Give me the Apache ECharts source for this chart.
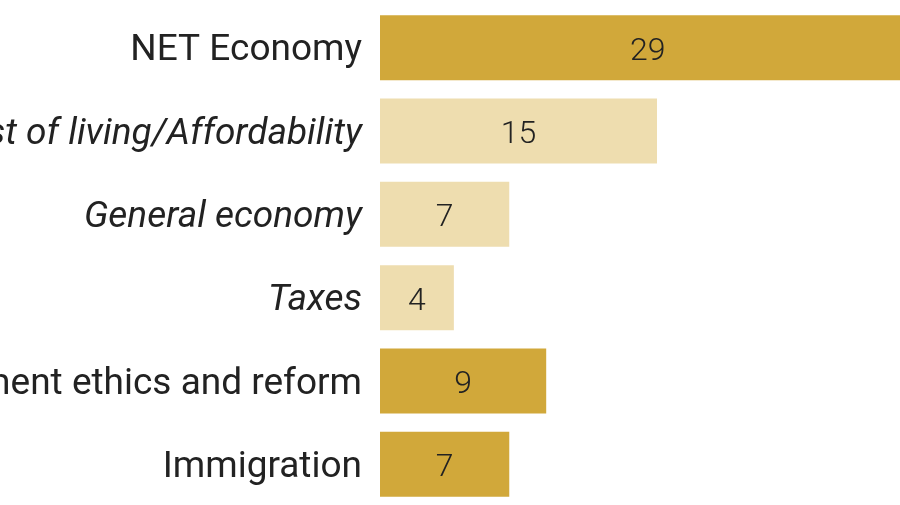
<!DOCTYPE html>
<html>
<head>
<meta charset="utf-8">
<script src="https://cdn.jsdelivr.net/npm/echarts@6/dist/echarts.min.js"></script>
<style>
  html, body { margin: 0; padding: 0; background: #fff; }
  #chart { width: 900px; height: 505px; }
</style>
</head>
<body>
<div id="chart"></div>
<script>
// categories, top to bottom
const categories = ['NET Economy', 'Cost of living/Affordability', 'General economy', 'Taxes', 'Government ethics and reform', 'Immigration'];
const values = [29, 15, 7, 4, 9, 7];
// sub-items of the economy net are drawn lighter and italic
const isSub = [false, true, true, true, false, false];

const darkGold = '#D1A83A';
const lightGold = '#EEDDAF';

const chart = echarts.init(document.getElementById('chart'));

chart.setOption({
  animation: false,
  grid: { left: 380, right: -34, top: 6, bottom: -1, containLabel: false, outerBoundsMode: 'none' },
  xAxis: {
    type: 'value',
    min: 0,
    max: 30,
    show: false
  },
  yAxis: {
    type: 'category',
    data: categories,
    inverse: true,
    axisLine: { show: false },
    axisTick: { show: false },
    axisLabel: {
      margin: 18,
      formatter: (v, i) => isSub[i] ? '{i|' + v + '}' : '{n|' + v + '}',
      rich: {
        n: { fontFamily: 'Roboto', fontSize: 37, color: '#222', padding: [7, 0, 0, 0] },
        i: { fontFamily: 'Roboto', fontSize: 37, fontStyle: 'italic', color: '#222', padding: [7, 0, 0, 0] }
      }
    }
  },
  series: [{
    type: 'bar',
    barWidth: 65,
    data: values.map((v, i) => ({
      value: v,
      itemStyle: { color: isSub[i] ? lightGold : darkGold }
    })),
    label: {
      show: true,
      position: 'inside',
      offset: [0, 4],
      fontFamily: 'Roboto',
      fontSize: 32,
      fontWeight: 300,
      color: '#222'
    }
  }]
});
</script>
</body>
</html>
